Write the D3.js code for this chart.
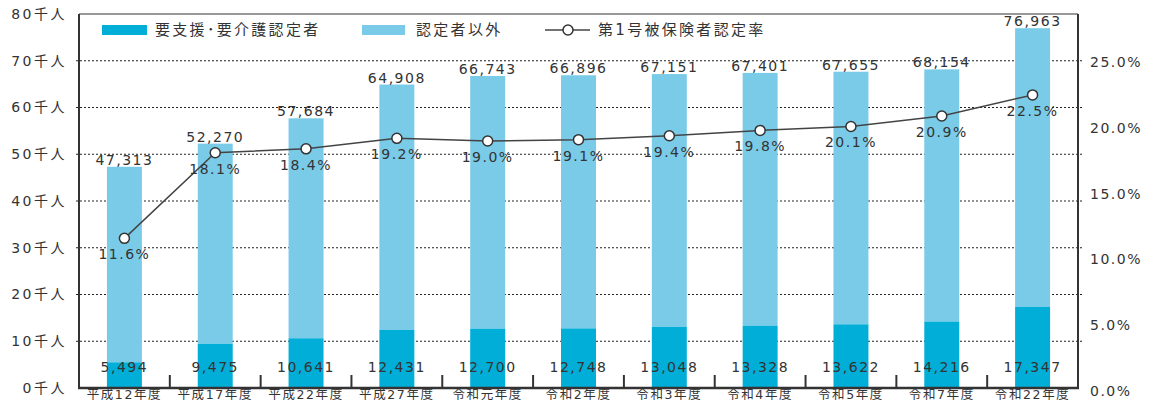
<!DOCTYPE html>
<html>
<head>
<meta charset="utf-8">
<script src="https://cdn.jsdelivr.net/npm/d3@7"></script>
<style>
  body { margin: 0; background: #fff; }
  text { font-family: "DejaVu Sans", "Noto Sans CJK JP", sans-serif; fill: #333; }
</style>
</head>
<body>
<div id="chart"></div>
<script>
const categories = ["平成12年度", "平成17年度", "平成22年度", "平成27年度", "令和元年度", "令和2年度",
  "令和3年度", "令和4年度", "令和5年度", "令和7年度", "令和22年度"];
const certified = [5494, 9475, 10641, 12431, 12700, 12748, 13048, 13328, 13622, 14216, 17347];
const totals = [47313, 52270, 57684, 64908, 66743, 66896, 67151, 67401, 67655, 68154, 76963];
const rates = [11.6, 18.1, 18.4, 19.2, 19.0, 19.1, 19.4, 19.8, 20.1, 20.9, 22.5];
const leftTicks = [0, 10000, 20000, 30000, 40000, 50000, 60000, 70000, 80000];
const gridTicks = [10000, 20000, 30000, 40000, 50000, 60000, 70000];
const rightTicks = [0, 5, 10, 15, 20, 25];
const legendNames = ["要支援･要介護認定者", "認定者以外", "第1号被保険者認定率"];

const W = 1154, H = 405;
const pLeft = 79, pRight = 1078, pTop = 14, pBottom = 388;
const darkBlue = "#00aed8", lightBlue = "#7acbe8";

const svg = d3.select("#chart").append("svg").attr("width", W).attr("height", H);

const x = d3.scaleBand().domain(categories).range([pLeft, pRight]).paddingInner(0.615).paddingOuter(0.3075);
const y = d3.scaleLinear().domain([0, 80000]).range([pBottom, pTop]);
const yR = d3.scaleLinear().domain([0, 25]).range([391, 62]);
const cx = c => x(c) + x.bandwidth() / 2;

// dotted grid
svg.append("g").selectAll("line").data(gridTicks).enter().append("line")
  .attr("x1", pLeft - 3).attr("x2", pRight + 6)
  .attr("y1", d => y(d)).attr("y2", d => y(d))
  .attr("stroke", "#222").attr("stroke-width", 1).attr("stroke-dasharray", "2,2");

// stacked bars
const bars = svg.append("g");
bars.selectAll(".rest").data(categories).enter().append("rect")
  .attr("x", d => x(d)).attr("width", x.bandwidth())
  .attr("y", (d, i) => y(totals[i])).attr("height", (d, i) => y(certified[i]) - y(totals[i]))
  .attr("fill", lightBlue);
bars.selectAll(".cert").data(categories).enter().append("rect")
  .attr("x", d => x(d)).attr("width", x.bandwidth())
  .attr("y", (d, i) => y(certified[i])).attr("height", (d, i) => y(0) - y(certified[i]))
  .attr("fill", darkBlue);

// frame
svg.append("line").attr("x1", pLeft).attr("x2", pRight).attr("y1", pTop).attr("y2", pTop)
  .attr("stroke", "#777").attr("stroke-width", 1.5);
svg.append("line").attr("x1", pRight).attr("x2", pRight).attr("y1", pTop).attr("y2", pBottom)
  .attr("stroke", "#333").attr("stroke-width", 2);
svg.append("line").attr("x1", pLeft).attr("x2", pLeft).attr("y1", pTop).attr("y2", pBottom)
  .attr("stroke", "#333").attr("stroke-width", 2);
svg.append("line").attr("x1", pLeft - 1).attr("x2", pRight + 1).attr("y1", pBottom).attr("y2", pBottom)
  .attr("stroke", "#333").attr("stroke-width", 2.5);

// category separators
const step = x.step();
svg.append("g").selectAll("line").data(categories.slice(1)).enter().append("line")
  .attr("x1", (d, i) => pLeft + step * (i + 1)).attr("x2", (d, i) => pLeft + step * (i + 1))
  .attr("y1", pBottom - 13).attr("y2", pBottom)
  .attr("stroke", "#333").attr("stroke-width", 2);

// axes
const axL = svg.append("g").attr("transform", `translate(${pLeft},0)`)
  .call(d3.axisLeft(y).tickValues(leftTicks).tickFormat(d => d / 1000 + "千人").tickSize(0).tickPadding(12));
axL.select(".domain").remove();
axL.selectAll("text").attr("font-size", 14).attr("letter-spacing", 2.5).attr("fill", "#333");

const axR = svg.append("g").attr("transform", `translate(${pRight},0)`)
  .call(d3.axisRight(yR).tickValues(rightTicks).tickFormat(d => d.toFixed(1) + "%").tickSize(0).tickPadding(12));
axR.select(".domain").remove();
axR.selectAll("text").attr("font-size", 14).attr("letter-spacing", 1.5).attr("fill", "#333");

const axB = svg.append("g").attr("transform", `translate(0,${pBottom})`)
  .call(d3.axisBottom(x).tickSize(0).tickPadding(2));
axB.select(".domain").remove();
axB.selectAll("text").attr("font-size", 12.5).attr("letter-spacing", 1.6).attr("fill", "#333");
svg.selectAll(".tick text").attr("font-family", null);

// line with markers
const line = d3.line().x((d, i) => cx(categories[i])).y(d => yR(d));
svg.append("path").datum(rates).attr("d", line)
  .attr("fill", "none").attr("stroke", "#444").attr("stroke-width", 1.5);
svg.append("g").selectAll("circle").data(rates).enter().append("circle")
  .attr("cx", (d, i) => cx(categories[i])).attr("cy", d => yR(d)).attr("r", 5)
  .attr("fill", "#fff").attr("stroke", "#333").attr("stroke-width", 1.5);

// value labels
const labels = svg.append("g").attr("text-anchor", "middle").attr("font-size", 14).attr("letter-spacing", 1.5);
labels.selectAll(".tot").data(totals).enter().append("text")
  .attr("x", (d, i) => cx(categories[i])).attr("y", d => y(d) - 2)
  .text(d => d3.format(",")(d));
labels.selectAll(".cer").data(certified).enter().append("text")
  .attr("x", (d, i) => cx(categories[i])).attr("y", 372)
  .text(d => d3.format(",")(d));
labels.selectAll(".rate").data(rates).enter().append("text")
  .attr("x", (d, i) => cx(categories[i])).attr("y", d => yR(d) + 21)
  .text(d => d.toFixed(1) + "%");

// legend
const lg = svg.append("g").attr("font-size", 15).attr("letter-spacing", 2.3);
lg.append("rect").attr("x", 102).attr("y", 25).attr("width", 45).attr("height", 10).attr("fill", darkBlue);
lg.append("text").attr("x", 155).attr("y", 30).attr("dominant-baseline", "central").text(legendNames[0]);
lg.append("rect").attr("x", 362).attr("y", 25).attr("width", 43).attr("height", 10).attr("fill", lightBlue);
lg.append("text").attr("x", 416).attr("y", 30).attr("dominant-baseline", "central").text(legendNames[1]);
lg.append("line").attr("x1", 545).attr("x2", 590).attr("y1", 30).attr("y2", 30)
  .attr("stroke", "#444").attr("stroke-width", 1.5);
lg.append("circle").attr("cx", 568).attr("cy", 30).attr("r", 5)
  .attr("fill", "#fff").attr("stroke", "#333").attr("stroke-width", 1.5);
lg.append("text").attr("x", 598).attr("y", 30).attr("dominant-baseline", "central").text(legendNames[2]);
</script>
</body>
</html>
